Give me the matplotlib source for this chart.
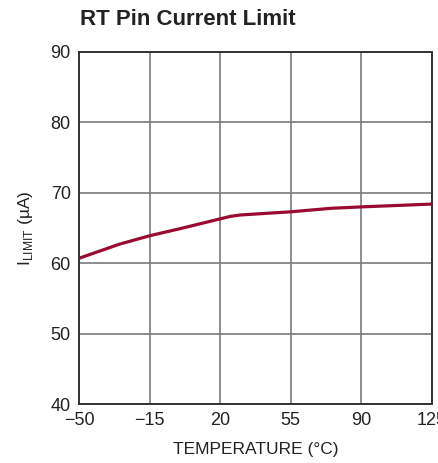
import numpy as np
import matplotlib
matplotlib.use('Agg')
from matplotlib import pyplot as plt

# data
temps = [-50, -30, -15, 0, 10, 20, 25, 30, 55, 75, 90, 125]
ilimit = [60.7, 62.7, 63.9, 64.9, 65.6, 66.3, 66.65, 66.85, 67.3, 67.8, 68.0, 68.4]
xticks = [-50, -15, 20, 55, 90, 125]
yticks = [40, 50, 60, 70, 80, 90]

fam = ['Liberation Sans Narrow', 'Liberation Sans', 'DejaVu Sans']
plt.rcParams['font.family'] = fam
plt.rcParams['mathtext.fontset'] = 'custom'
plt.rcParams['mathtext.rm'] = 'Liberation Sans'
plt.rcParams['axes.unicode_minus'] = True

fig = plt.figure(figsize=(4.39, 4.63), dpi=100)
ax = fig.add_axes([0.180, 0.1274, 0.804, 0.7603])

ax.plot(temps, ilimit, color='#9b0a30', lw=2.3, solid_capstyle='butt')

ax.set_xlim(-50, 125)
ax.set_ylim(40, 90)
ax.set_xticks(xticks)
ax.set_yticks(yticks)
ax.set_xticklabels(['\u221250', '\u221215', '20', '55', '90', '125'])
ax.grid(True, color='#7a7a7a', lw=1.2)
ax.set_axisbelow(True)
ax.tick_params(length=0, labelsize=13, pad=6, colors='#222222')
for s in ax.spines.values():
    s.set_color('#333333')
    s.set_linewidth(1.4)

ax.set_xlabel('TEMPERATURE (°C)', fontsize=12.5, color='#222222', labelpad=9)
ax.set_ylabel(r'I$_{\mathrm{LIMIT}}$ (µA)', fontsize=12.5, color='#222222', labelpad=11)

fig.text(0.182, 0.957, 'RT Pin Current Limit', fontsize=16, fontweight='bold',
         color='#222222', va='center', ha='left')

fig.savefig('out.png', dpi=100)
